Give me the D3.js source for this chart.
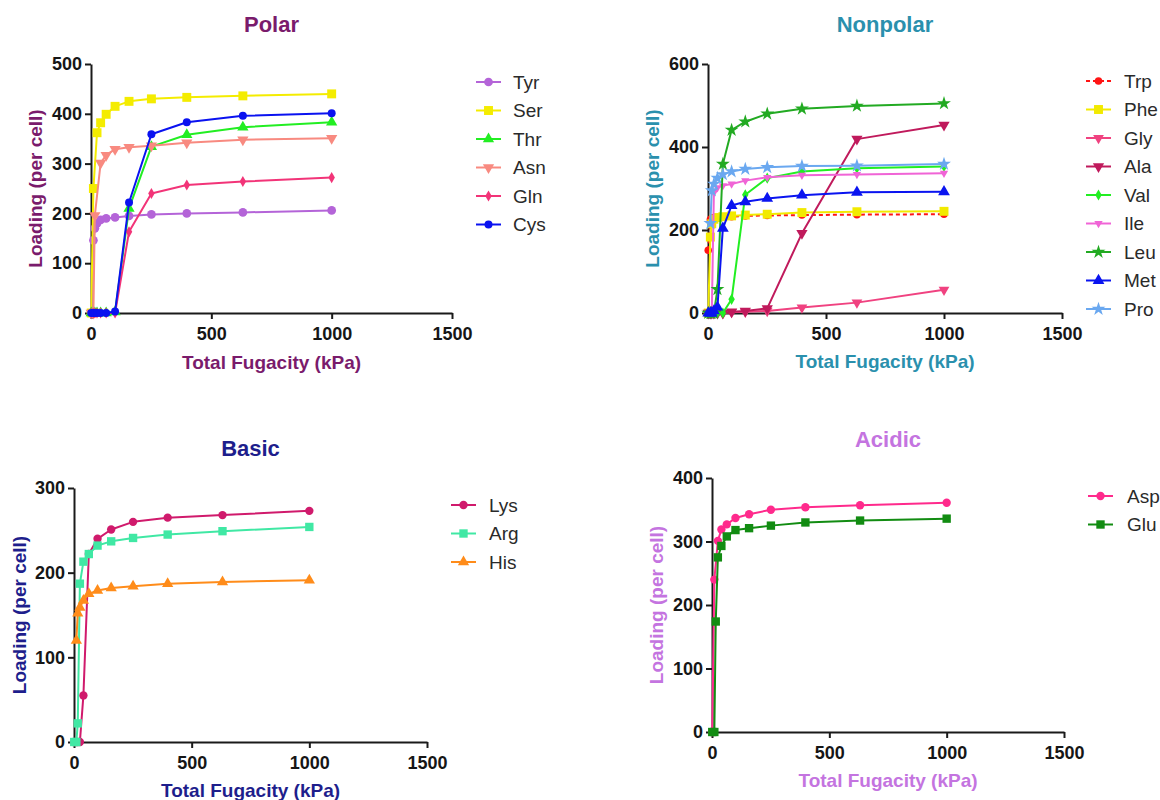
<!DOCTYPE html>
<html>
<head>
<meta charset="utf-8">
<script src="https://cdn.jsdelivr.net/npm/d3@7"></script>
<style>
  body { margin: 0; background: #fff; }
  svg { display: block; font-family: "Liberation Sans", Arial, sans-serif; }
</style>
</head>
<body>
<svg id="chart" width="1160" height="800"></svg>
<script>
'use strict';

// total fugacity (kPa), shared by every series; null = no point at that pressure
var fugacity = [1, 10, 16, 25, 40, 63, 100, 158, 251, 398, 631, 1000];

// Polar
var tyr = [0, 146, 170, 180, 187, 190, 192, 195, 198, 200, 202, 206];
var ser = [0, 250, null, 362, 382, 399, 415, 425, 430, 433, 436, 440];
var thr = [0, 0, 0, 0, 0, 0, 2, 210, 334, 358, 373, 383];
var asn = [0, 0, 196, null, 301, 317, 329, 333, 336, 342, 348, 351];
var gln = [0, 0, 0, 0, 0, 0, 0, 163, 240, 257, 264, 272];
var cys = [0, 0, 0, 0, 0, 0, 3, 222, 359, 383, 396, 401];

// Nonpolar
var trp = [151, 225, 228, 230, 230, 231, 232, 234, 235, 236, 237, 238];
var phe = [0, 183, 215, 226, 230, 232, 234, 236, 238, 242, 244, 245];
var gly = [0, 0, 0, 0, 0, 0, 2, 3, 5, 13, 25, 56];
var ala = [0, 0, 0, 0, 0, 0, 3, 5, 11, 192, 419, 453];
var val = [0, 0, 0, 0, 0, 0, 33, 285, 325, 341, 349, 353];
var ile = [0, 0, 0, 290, 302, 307, 311, 319, 327, 332, 334, 337];
var leu = [0, 0, 0, 0, 57, 359, 441, 461, 480, 492, 499, 505];
var met = [0, 0, 0, 5, 14, 204, 259, 268, 276, 284, 291, 292];
var pro = [null, 216, 295, 311, 325, 334, 341, 347, 351, 354, 355, 359];

// Basic
var lys = [0, 0, 0, 0, 55, 222, 240, 251, 260, 265, 268, 273];
var arg = [0, 0, 22, 187, 213, 222, 232, 237, 241, 245, 249, 254];
var his = [null, 120, 152, 159, 167, 175, 179, 182, 184, 187, 189, 191];

// Acidic
var asp = [0, 240, null, 301, 319, 327, 337, 343, 350, 354, 357, 361];
var glu = [0, 0, 174, 275, 293, 308, 318, 321, 325, 330, 333, 336];

var xTicks = [0, 500, 1000, 1500];

var panels = [
    {
        title: 'Polar', color: '#7a1b6c', yMax: 500, yStep: 100,
        box: {x0: 91, x1: 452, y0: 313, y1: 64},
        titleY: 32, xLabelY: 369, yLabelX: 42,
        legend: {x: 476, y: 82, text: 513},
        series: [
            {name: 'Tyr', values: tyr, color: '#b464d8', shape: 'circle', size: 60},
            {name: 'Ser', values: ser, color: '#f4ec00', shape: 'square', size: 80},
            {name: 'Thr', values: thr, color: '#22ee22', shape: 'triangle', size: 55},
            {name: 'Asn', values: asn, color: '#f88a80', shape: 'down', size: 55},
            {name: 'Gln', values: gln, color: '#f23478', shape: 'diamond', size: 36},
            {name: 'Cys', values: cys, color: '#0a12f0', shape: 'circle', size: 50}
        ]
    },
    {
        title: 'Nonpolar', color: '#2a90ad', yMax: 600, yStep: 200,
        box: {x0: 708, x1: 1062, y0: 313, y1: 64},
        titleY: 32, xLabelY: 368, yLabelX: 659,
        legend: {x: 1086, y: 81, text: 1124},
        series: [
            {name: 'Trp', values: trp, color: '#ff1414', shape: 'circle', size: 45, dash: '4,3'},
            {name: 'Phe', values: phe, color: '#f2ea00', shape: 'square', size: 80},
            {name: 'Gly', values: gly, color: '#f04280', shape: 'down', size: 50},
            {name: 'Ala', values: ala, color: '#c01a5c', shape: 'down', size: 55},
            {name: 'Val', values: val, color: '#22ee22', shape: 'diamond', size: 36},
            {name: 'Ile', values: ile, color: '#f064d6', shape: 'down', size: 30},
            {name: 'Leu', values: leu, color: '#22aa22', shape: 'star', size: 60},
            {name: 'Met', values: met, color: '#0a14f0', shape: 'triangle', size: 60},
            {name: 'Pro', values: pro, color: '#6aa8f0', shape: 'star', size: 60}
        ]
    },
    {
        title: 'Basic', color: '#1e1e8c', yMax: 300, yStep: 100,
        box: {x0: 74, x1: 427, y0: 742, y1: 488},
        titleY: 456, xLabelY: 797, yLabelX: 26,
        legend: {x: 451, y: 505, text: 489},
        series: [
            {name: 'Lys', values: lys, color: '#d01a6c', shape: 'circle', size: 55},
            {name: 'Arg', values: arg, color: '#40e8a4', shape: 'square', size: 70},
            {name: 'His', values: his, color: '#ff8c1a', shape: 'triangle', size: 55}
        ]
    },
    {
        title: 'Acidic', color: '#c474e0', yMax: 400, yStep: 100,
        box: {x0: 712, x1: 1064, y0: 732, y1: 478},
        titleY: 447, xLabelY: 787, yLabelX: 663,
        legend: {x: 1088, y: 496, text: 1127},
        series: [
            {name: 'Asp', values: asp, color: '#ff2a8c', shape: 'circle', size: 55},
            {name: 'Glu', values: glu, color: '#128c12', shape: 'square', size: 70}
        ]
    }
];

var svg = d3.select('#chart');

function symbolPath(shape, size) {
    var type = {
        circle: d3.symbolCircle,
        square: d3.symbolSquare,
        triangle: d3.symbolTriangle,
        down: d3.symbolTriangle,
        diamond: d3.symbolDiamond,
        star: d3.symbolStar
    }[shape];
    return d3.symbol().type(type).size(size)();
}

function drawMarker(g, s, x, y) {
    g.append('path')
        .attr('d', symbolPath(s.shape, s.size))
        .attr('transform', 'translate(' + x + ',' + y + ')' + (s.shape === 'down' ? ' rotate(180)' : ''))
        .attr('fill', s.color);
}

panels.forEach(function(p) {
    var b = p.box;
    var x = d3.scaleLinear().domain([0, 1500]).range([b.x0, b.x1]);
    var y = d3.scaleLinear().domain([0, p.yMax]).range([b.y0, b.y1]);
    var g = svg.append('g').attr('class', 'panel');
    // titles sit over the middle of the full x axis
    var midX = (b.x0 + b.x1) / 2;

    // axes
    var xAxis = d3.axisBottom(x).tickValues(xTicks).tickSize(6).tickSizeOuter(0).tickFormat(d3.format('d'));
    var yAxis = d3.axisLeft(y).tickValues(d3.range(0, p.yMax + 1, p.yStep)).tickSize(6).tickSizeOuter(0);

    var xg = g.append('g').attr('transform', 'translate(0,' + b.y0 + ')').call(xAxis);
    var yg = g.append('g').attr('transform', 'translate(' + b.x0 + ',0)').call(yAxis);
    [xg, yg].forEach(function(ax) {
        ax.select('.domain').attr('stroke', '#1a1a1a').attr('stroke-width', 2);
        ax.selectAll('.tick line').attr('stroke', '#1a1a1a').attr('stroke-width', 2);
        ax.selectAll('.tick text')
            .attr('fill', '#161616')
            .style('font-size', '18px')
            .style('font-weight', 'bold');
    });
    xg.selectAll('.tick text').attr('dy', '1.0em');

    g.append('text')
        .attr('x', midX)
        .attr('y', p.titleY)
        .attr('text-anchor', 'middle')
        .attr('fill', p.color)
        .style('font-size', '22px')
        .style('font-weight', 'bold')
        .text(p.title);

    g.append('text')
        .attr('x', midX)
        .attr('y', p.xLabelY)
        .attr('text-anchor', 'middle')
        .attr('fill', p.color)
        .style('font-size', '19px')
        .style('font-weight', 'bold')
        .text('Total Fugacity (kPa)');

    g.append('text')
        .attr('transform', 'translate(' + p.yLabelX + ',' + (b.y0 + b.y1) / 2 + ') rotate(-90)')
        .attr('text-anchor', 'middle')
        .attr('fill', p.color)
        .style('font-size', '19px')
        .style('font-weight', 'bold')
        .text('Loading (per cell)');

    // series: each line with its markers
    var line = d3.line().x(function(d) { return x(d.x); }).y(function(d) { return y(d.y); });

    p.series.forEach(function(s) {
        s.points = fugacity.map(function(f, i) { return {x: f, y: s.values[i]}; })
            .filter(function(d) { return d.y !== null; });
    });

    p.series.forEach(function(s) {
        var sg = g.append('g').attr('class', 'series');
        sg.append('path')
            .datum(s.points)
            .attr('d', line)
            .attr('fill', 'none')
            .attr('stroke', s.color)
            .attr('stroke-width', 2)
            .attr('stroke-dasharray', s.dash || null)
            .attr('stroke-linejoin', 'round');
        s.points.forEach(function(d) {
            drawMarker(sg, s, x(d.x), y(d.y));
        });
    });

    // legend
    var lg = g.append('g').attr('class', 'legend');
    p.series.forEach(function(s, i) {
        var ly = p.legend.y + i * 28.5;
        lg.append('line')
            .attr('x1', p.legend.x).attr('x2', p.legend.x + 25)
            .attr('y1', ly).attr('y2', ly)
            .attr('stroke', s.color)
            .attr('stroke-width', 2)
            .attr('stroke-dasharray', s.dash || null);
        drawMarker(lg, s, p.legend.x + 12.5, ly);
        lg.append('text')
            .attr('x', p.legend.text)
            .attr('y', ly)
            .attr('dy', '0.35em')
            .attr('fill', '#2a2a2a')
            .style('font-size', '19px')
            .text(s.name);
    });
});
</script>
</body>
</html>
